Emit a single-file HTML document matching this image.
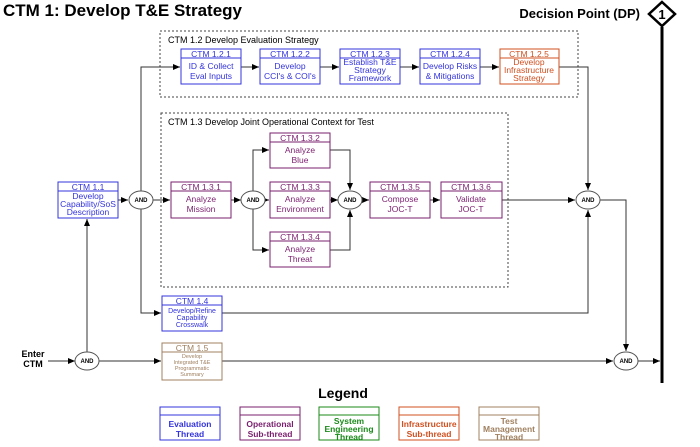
<!DOCTYPE html>
<html><head><meta charset="utf-8"><style>body{margin:0;background:#fff}svg{display:block}text{font-family:"Liberation Sans",sans-serif}</style></head><body>
<svg width="700" height="447" viewBox="0 0 700 447" xmlns="http://www.w3.org/2000/svg">
<defs><marker id="a" markerWidth="8" markerHeight="8" refX="7" refY="4" orient="auto" markerUnits="userSpaceOnUse"><path d="M0,1 L7,4 L0,7z" fill="#000"/></marker></defs>
<text x="3" y="16" font-size="17" font-weight="bold">CTM 1: Develop T&amp;E Strategy</text>
<text x="640" y="18" font-size="13" font-weight="bold" text-anchor="end">Decision Point (DP)</text>
<polygon points="662,2 675,14 662,26 649,14" fill="#fff" stroke="#000" stroke-width="2.5"/>
<text x="662" y="19" font-size="13" font-weight="bold" text-anchor="middle">1</text>
<line x1="662" y1="383" x2="662" y2="27" stroke="#000" stroke-width="3"/>
<rect x="160" y="31" width="418" height="66" fill="none" stroke="#444" stroke-dasharray="2,2"/>
<text x="168" y="43" font-size="9">CTM 1.2 Develop Evaluation Strategy</text>
<rect x="161" y="113" width="347" height="174" fill="none" stroke="#444" stroke-dasharray="2,2"/>
<text x="168" y="125" font-size="9">CTM 1.3 Develop Joint Operational Context for Test</text>
<g fill="none" stroke="#333" stroke-width="1">
<polyline points="141,191 141,67 180,67" marker-end="url(#a)"/>
<line x1="241" y1="67" x2="259" y2="67" marker-end="url(#a)"/>
<line x1="320" y1="67" x2="339" y2="67" marker-end="url(#a)"/>
<line x1="400" y1="67" x2="419" y2="67" marker-end="url(#a)"/>
<line x1="480" y1="67" x2="499" y2="67" marker-end="url(#a)"/>
<polyline points="559,67 588,67 588,190" marker-end="url(#a)"/>
<line x1="118" y1="200" x2="128" y2="200" marker-end="url(#a)"/>
<line x1="153" y1="200" x2="170" y2="200" marker-end="url(#a)"/>
<polyline points="141,209 141,313 161,313" marker-end="url(#a)"/>
<line x1="231" y1="200" x2="241" y2="200" marker-end="url(#a)"/>
<polyline points="253,191 253,150 269,150" marker-end="url(#a)"/>
<polyline points="253,209 253,250 269,250" marker-end="url(#a)"/>
<line x1="265" y1="200" x2="269" y2="200" marker-end="url(#a)"/>
<polyline points="330,150 350,150 350,190" marker-end="url(#a)"/>
<polyline points="330,250 350,250 350,210" marker-end="url(#a)"/>
<line x1="330" y1="200" x2="338" y2="200" marker-end="url(#a)"/>
<line x1="362" y1="200" x2="369" y2="200" marker-end="url(#a)"/>
<line x1="430" y1="200" x2="440" y2="200" marker-end="url(#a)"/>
<line x1="502" y1="200" x2="575" y2="200" marker-end="url(#a)"/>
<polyline points="222,313 588,313 588,210" marker-end="url(#a)"/>
<polyline points="600,200 626,200 626,351" marker-end="url(#a)"/>
<line x1="48" y1="361" x2="75" y2="361" marker-end="url(#a)"/>
<line x1="87" y1="352" x2="87" y2="219" marker-end="url(#a)"/>
<line x1="99" y1="361" x2="161" y2="361" marker-end="url(#a)"/>
<line x1="222" y1="361" x2="613" y2="361" marker-end="url(#a)"/>
<line x1="638" y1="361" x2="660" y2="361" marker-end="url(#a)"/>
</g>
<g fill="#fff" stroke="#555">
<ellipse cx="141" cy="200" rx="12" ry="9"/><ellipse cx="253" cy="200" rx="12" ry="9"/><ellipse cx="350" cy="200" rx="12" ry="9"/><ellipse cx="588" cy="200" rx="12" ry="9"/><ellipse cx="87" cy="361" rx="12" ry="9"/><ellipse cx="626" cy="361" rx="12" ry="9"/>
</g>
<g font-size="6" font-weight="bold" text-anchor="middle">
<text x="141" y="202">AND</text><text x="253" y="202">AND</text><text x="350" y="202">AND</text><text x="588" y="202">AND</text><text x="87" y="363">AND</text><text x="626" y="363">AND</text>
</g>
<text x="33" y="357" font-size="9" font-weight="bold" text-anchor="middle">Enter</text>
<text x="33" y="367" font-size="9" font-weight="bold" text-anchor="middle">CTM</text>
<g font-size="8.5" text-anchor="middle">
<!-- 1.2 boxes -->
<g stroke="#3333dd" fill="#fff"><rect x="181" y="49" width="60" height="35"/><line x1="181" y1="58" x2="241" y2="58"/><rect x="260" y="49" width="60" height="35"/><line x1="260" y1="58" x2="320" y2="58"/><rect x="340" y="49" width="60" height="35"/><line x1="340" y1="58" x2="400" y2="58"/><rect x="420" y="49" width="60" height="35"/><line x1="420" y1="58" x2="480" y2="58"/></g>
<g fill="#3333dd"><text x="211" y="57">CTM 1.2.1</text><text x="211" y="69">ID &amp; Collect</text><text x="211" y="79">Eval Inputs</text>
<text x="290" y="57">CTM 1.2.2</text><text x="290" y="69">Develop</text><text x="290" y="79">CCI's &amp; COI's</text>
<text x="370" y="57">CTM 1.2.3</text><text x="370" y="65">Establish T&amp;E</text><text x="370" y="73">Strategy</text><text x="370" y="81">Framework</text>
<text x="450" y="57">CTM 1.2.4</text><text x="450" y="69">Develop Risks</text><text x="450" y="79">&amp; Mitigations</text></g>
<g stroke="#d05020" fill="#fff"><rect x="500" y="49" width="59" height="35"/><line x1="500" y1="58" x2="559" y2="58"/></g>
<g fill="#d05020"><text x="529" y="57">CTM 1.2.5</text><text x="529" y="65">Develop</text><text x="529" y="73">Infrastructure</text><text x="529" y="81">Strategy</text></g>
<!-- 1.1, 1.4 -->
<g stroke="#3333dd" fill="#fff"><rect x="58" y="182" width="60" height="36"/><line x1="58" y1="191" x2="118" y2="191"/><rect x="162" y="296" width="60" height="35"/><line x1="162" y1="305" x2="222" y2="305"/></g>
<g fill="#3333dd"><text x="88" y="190">CTM 1.1</text><text x="88" y="199">Develop</text><text x="88" y="207">Capability/SoS</text><text x="88" y="215">Description</text>
<text x="192" y="304">CTM 1.4</text><text x="192" y="313" font-size="7">Develop/Refine</text><text x="192" y="320" font-size="7">Capability</text><text x="192" y="327" font-size="7">Crosswalk</text></g>
<!-- 1.3 boxes -->
<g stroke="#7a1f6e" fill="#fff">
<rect x="171" y="182" width="60" height="36"/><line x1="171" y1="191" x2="231" y2="191"/>
<rect x="270" y="133" width="60" height="35"/><line x1="270" y1="142" x2="330" y2="142"/>
<rect x="270" y="182" width="60" height="36"/><line x1="270" y1="191" x2="330" y2="191"/>
<rect x="270" y="232" width="60" height="35"/><line x1="270" y1="241" x2="330" y2="241"/>
<rect x="370" y="182" width="60" height="36"/><line x1="370" y1="191" x2="430" y2="191"/>
<rect x="441" y="182" width="61" height="36"/><line x1="441" y1="191" x2="502" y2="191"/></g>
<g fill="#7a1f6e">
<text x="201" y="190">CTM 1.3.1</text><text x="201" y="202">Analyze</text><text x="201" y="212">Mission</text>
<text x="300" y="141">CTM 1.3.2</text><text x="300" y="153">Analyze</text><text x="300" y="163">Blue</text>
<text x="300" y="190">CTM 1.3.3</text><text x="300" y="202">Analyze</text><text x="300" y="212">Environment</text>
<text x="300" y="240">CTM 1.3.4</text><text x="300" y="252">Analyze</text><text x="300" y="262">Threat</text>
<text x="400" y="190">CTM 1.3.5</text><text x="400" y="202">Compose</text><text x="400" y="212">JOC-T</text>
<text x="471" y="190">CTM 1.3.6</text><text x="471" y="202">Validate</text><text x="471" y="212">JOC-T</text></g>
<!-- 1.5 -->
<g stroke="#a08060" fill="#fff"><rect x="162" y="343" width="60" height="37"/><line x1="162" y1="352" x2="222" y2="352"/></g>
<g fill="#a08060"><text x="192" y="351">CTM 1.5</text><text x="192" y="358" font-size="5.5">Develop</text><text x="192" y="364" font-size="5.5">Integrated T&amp;E</text><text x="192" y="370" font-size="5.5">Programmatic</text><text x="192" y="376" font-size="5.5">Summary</text></g>
</g>
<text x="343" y="398" font-size="14" font-weight="bold" text-anchor="middle">Legend</text>
<g fill="#fff" stroke-width="1">
<rect x="160" y="407" width="60" height="33" stroke="#3333dd"/><line x1="160" y1="415" x2="220" y2="415" stroke="#3333dd"/>
<rect x="240" y="407" width="60" height="33" stroke="#7a1f6e"/><line x1="240" y1="415" x2="300" y2="415" stroke="#7a1f6e"/>
<rect x="319" y="407" width="60" height="33" stroke="#1a8a1a"/><line x1="319" y1="415" x2="379" y2="415" stroke="#1a8a1a"/>
<rect x="399" y="407" width="60" height="33" stroke="#d05020"/><line x1="399" y1="415" x2="459" y2="415" stroke="#d05020"/>
<rect x="479" y="407" width="60" height="33" stroke="#a08060"/><line x1="479" y1="415" x2="539" y2="415" stroke="#a08060"/>
</g>
<g font-size="8.5" font-weight="bold" text-anchor="middle">
<text x="190" y="427" fill="#3333dd">Evaluation</text><text x="190" y="437" fill="#3333dd">Thread</text>
<text x="270" y="427" fill="#7a1f6e">Operational</text><text x="270" y="437" fill="#7a1f6e">Sub-thread</text>
<text x="349" y="424" fill="#1a8a1a">System</text><text x="349" y="432" fill="#1a8a1a">Engineering</text><text x="349" y="440" fill="#1a8a1a">Thread</text>
<text x="429" y="427" fill="#d05020">Infrastructure</text><text x="429" y="437" fill="#d05020">Sub-thread</text>
<text x="509" y="424" fill="#a08060">Test</text><text x="509" y="432" fill="#a08060">Management</text><text x="509" y="440" fill="#a08060">Thread</text>
</g>
</svg>
</body></html>
